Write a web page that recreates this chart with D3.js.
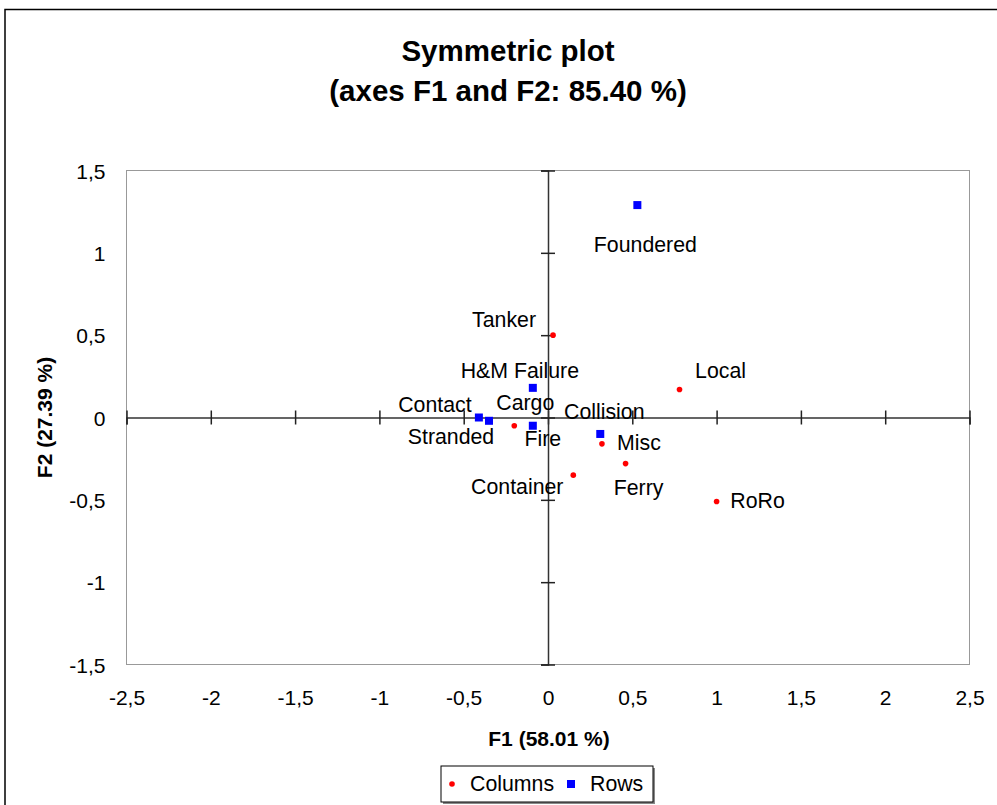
<!DOCTYPE html>
<html><head><meta charset="utf-8">
<script src="https://cdn.jsdelivr.net/npm/d3@7"></script>
<style>
html,body{margin:0;padding:0;background:#fff;}
svg{display:block;font-family:"Liberation Sans",Arial,sans-serif;}
</style></head>
<body>
<svg id="chart" width="997" height="805"></svg>
<script>
// ---- data ----
const colNames = ["Tanker","Local","Cargo","Misc","Ferry","Container","RoRo"];
const colF1 = [0.03, 0.78, -0.20, 0.32, 0.46, 0.15, 1.00];
const colF2 = [0.50, 0.17, -0.05, -0.16, -0.28, -0.35, -0.51];
const rowNames = ["Foundered","H&M Failure","Contact","Stranded","Fire","Collision"];
const rowF1 = [0.53, -0.09, -0.41, -0.35, -0.09, 0.31];
const rowF2 = [1.29, 0.18, 0.00, -0.02, -0.05, -0.10];
const xTicks = [-2.5,-2,-1.5,-1,-0.5,0,0.5,1,1.5,2,2.5];
const yTicks = [-1.5,-1,-0.5,0,0.5,1,1.5];
const titleLines = ["Symmetric plot","(axes F1 and F2: 85.40 %)"];
const xTitle = "F1 (58.01 %)";
const yTitle = "F2 (27.39 %)";
const legendNames = ["Columns","Rows"];

// ---- drawing ----
const svg = d3.select("#chart");
const fmt = d3.formatLocale({decimal:",",thousands:".",grouping:[3],currency:["",""],minus:"-"}).format("~g");
const x = d3.scaleLinear().domain([-2.5,2.5]).range([126.5,969.5]);
const y = d3.scaleLinear().domain([-1.5,1.5]).range([664.5,170.5]);

// outer frame
svg.append("rect").attr("x",5).attr("y",9.5).attr("width",1100).attr("height",900)
  .attr("fill","none").attr("stroke","#000").attr("stroke-width",1.5);

// title
svg.append("g").selectAll("text").data(titleLines).join("text")
  .attr("x",508).attr("y",(d,i)=>61+i*40).attr("text-anchor","middle")
  .attr("font-weight","bold").attr("font-size",29.5).text(d=>d);

// plot area border
svg.append("rect").attr("x",x(-2.5)).attr("y",y(1.5))
  .attr("width",x(2.5)-x(-2.5)).attr("height",y(-1.5)-y(1.5))
  .attr("fill","none").attr("stroke","#999").attr("stroke-width",1);

// tick labels
const gxl = svg.append("g").attr("transform",`translate(0,${y(-1.5)})`)
  .call(d3.axisBottom(x).tickValues(xTicks).tickFormat(fmt).tickSize(0));
gxl.select(".domain").remove();
gxl.selectAll("text").attr("y",40).attr("dy",null).attr("font-size",21)
  .attr("font-family","Liberation Sans, Arial, sans-serif").attr("fill","#000");

const gyl = svg.append("g").attr("transform",`translate(${x(-2.5)},0)`)
  .call(d3.axisLeft(y).tickValues(yTicks).tickFormat(fmt).tickSize(0).tickPadding(21));
gyl.select(".domain").remove();
gyl.selectAll("text").attr("font-size",21).attr("dy","0.36em")
  .attr("font-family","Liberation Sans, Arial, sans-serif").attr("fill","#000");

// zero axes with cross ticks
const gx0 = svg.append("g").attr("transform",`translate(0,${y(0)})`)
  .call(d3.axisBottom(x).tickValues(xTicks).tickFormat("").tickSizeOuter(0).tickSize(7));
gx0.select(".domain").attr("stroke","#333").attr("stroke-width",1.5);
gx0.selectAll(".tick line").attr("y1",-7).attr("y2",7).attr("stroke","#222").attr("stroke-width",1.5);

const gy0 = svg.append("g").attr("transform",`translate(${x(0)},0)`)
  .call(d3.axisLeft(y).tickValues(yTicks).tickFormat("").tickSizeOuter(0).tickSize(7));
gy0.select(".domain").attr("stroke","#333").attr("stroke-width",1.5);
gy0.selectAll(".tick line").attr("x1",-7).attr("x2",7).attr("stroke","#222").attr("stroke-width",1.5);

// axis titles
svg.append("text").attr("x",549).attr("y",746).attr("text-anchor","middle")
  .attr("font-weight","bold").attr("font-size",21).text(xTitle);
svg.append("text").attr("transform",`translate(52,${y(0)}) rotate(-90)`).attr("text-anchor","middle")
  .attr("font-weight","bold").attr("font-size",21).text(yTitle);

// label offsets (text centre / baseline relative to point)
const labelOff = {
  "Foundered":[8,47], "Tanker":[-49,-8], "H&M Failure":[-13,-10], "Local":[41,-12],
  "Cargo":[11,-16], "Contact":[-44,-6], "Collision":[4,-15], "Stranded":[-38,23],
  "Fire":[10,20], "Misc":[37,6], "Container":[-56,19], "Ferry":[13,31], "RoRo":[41,7]
};

const cols = colNames.map((n,i)=>({name:n,f1:colF1[i],f2:colF2[i]}));
const rows = rowNames.map((n,i)=>({name:n,f1:rowF1[i],f2:rowF2[i]}));

svg.append("g").selectAll("circle").data(cols).join("circle")
  .attr("cx",d=>x(d.f1)).attr("cy",d=>y(d.f2)).attr("r",2.8).attr("fill","#ff0000");
svg.append("g").selectAll("rect").data(rows).join("rect")
  .attr("x",d=>x(d.f1)-4).attr("y",d=>y(d.f2)-4).attr("width",8).attr("height",8).attr("fill","#0000ff");

svg.append("g").selectAll("text").data(cols.concat(rows)).join("text")
  .attr("x",d=>x(d.f1)+labelOff[d.name][0]).attr("y",d=>y(d.f2)+labelOff[d.name][1])
  .attr("text-anchor","middle").attr("font-size",21.3).attr("fill","#000").text(d=>d.name);

// legend
const lg = svg.append("g");
lg.append("rect").attr("x",443).attr("y",768).attr("width",212).attr("height",36).attr("fill","#888");
lg.append("rect").attr("x",441).attr("y",766).attr("width",212).attr("height",36)
  .attr("fill","#fff").attr("stroke","#000").attr("stroke-width",1);
lg.append("circle").attr("cx",452).attr("cy",784).attr("r",2.8).attr("fill","#ff0000");
lg.append("text").attr("x",470).attr("y",791).attr("font-size",21.3).text(legendNames[0]);
lg.append("rect").attr("x",567).attr("y",780).attr("width",8).attr("height",8).attr("fill","#0000ff");
lg.append("text").attr("x",590).attr("y",791).attr("font-size",21.3).text(legendNames[1]);
</script>
</body></html>
